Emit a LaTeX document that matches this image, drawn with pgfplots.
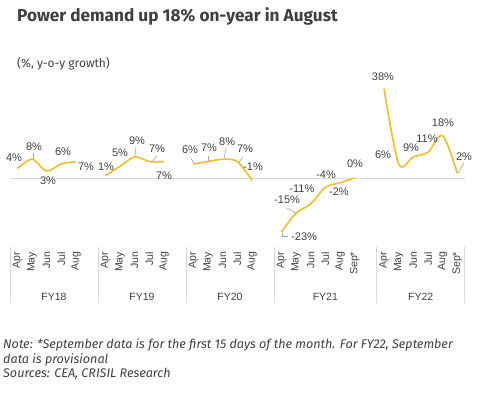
\documentclass[border=0pt]{standalone}
\usepackage{fontspec}
\setmainfont{Liberation Sans}
\newfontfamily\titlefont{Fira Sans}
\usepackage{pgfplots}
\pgfplotsset{compat=1.18}
\definecolor{gold}{RGB}{244,188,38}
\definecolor{txt}{RGB}{64,64,64}
\definecolor{sep}{RGB}{217,217,217}
\definecolor{lead}{RGB}{165,165,165}
\begin{document}
\begin{tikzpicture}
\useasboundingbox (0,0) rectangle (482pt,392pt);
\node[anchor=west, font=\titlefont\bfseries\fontsize{17.2}{19}\selectfont, text=txt, inner sep=0] at (17pt,376pt) {Power demand up 18\% on-year in August};
\node[anchor=west, font=\titlefont\fontsize{12}{14}\selectfont, text=txt, inner sep=0] at (17pt,328pt) {(\%, y-o-y growth)};
\node[anchor=west, font=\titlefont\itshape\fontsize{12.6}{14}\selectfont, text=txt, inner sep=0] at (3pt,47pt) {Note: *September data is for the first 15 days of the month. For FY22, September};
\node[anchor=west, font=\titlefont\itshape\fontsize{12.6}{14}\selectfont, text=txt, inner sep=0] at (3pt,32pt) {data is provisional};
\node[anchor=west, font=\titlefont\itshape\fontsize{12.6}{14}\selectfont, text=txt, inner sep=0] at (3pt,18pt) {Sources: CEA, CRISIL Research};
\begin{axis}[at={(10pt,143.5pt)}, anchor=south west, scale only axis,
  width=454.7pt, height=164.5pt, xmin=0, xmax=31, ymin=-30, ymax=40,
  axis line style={draw=none}, ytick=\empty, tick style={draw=none},
  clip=false,
  xtick={0.5,1.5,2.5,3.5,4.5, 6.5,7.5,8.5,9.5,10.5, 12.5,13.5,14.5,15.5,16.5, 18.5,19.5,20.5,21.5,22.5,23.5, 25.5,26.5,27.5,28.5,29.5,30.5},
  xticklabels={Apr,May,Jun,Jul,Aug, Apr,May,Jun,Jul,Aug, Apr,May,Jun,Jul,Aug, Apr,May,Jun,Jul,Aug,Sep*, Apr,May,Jun,Jul,Aug,Sep*},
  xticklabel style={rotate=90, anchor=east, font=\fontsize{10.5}{12}\selectfont, text=txt}]
\addplot[sep, line width=0.8pt] coordinates {(0,0) (31,0)};
\addplot[gold, line width=1.6pt, smooth] coordinates {(0.5,4) (1.5,8) (2.5,3) (3.5,6) (4.5,7)};
\addplot[gold, line width=1.6pt, smooth] coordinates {(6.5,1) (7.5,5) (8.5,9) (9.5,7) (10.5,7)};
\addplot[gold, line width=1.6pt, smooth] coordinates {(12.5,6) (13.5,7) (14.5,8) (15.5,7) (16.5,-1)};
\addplot[gold, line width=1.6pt, smooth] coordinates {(18.5,-23) (19.5,-15) (20.5,-11) (21.5,-4) (22.5,-2) (23.5,0)};
\addplot[gold, line width=1.6pt, smooth] coordinates {(25.5,38) (26.5,6) (27.5,9) (28.5,11) (29.5,18) (30.5,2)};
% separators
\foreach \s in {0,6,12,18,25,31} {\edef\tmp{\noexpand\draw[sep, line width=0.8pt] (axis cs:\s,-29.4) -- (axis cs:\s,-53.2);}\tmp}
% group labels
\tikzset{fy/.style={font=\fontsize{10.5}{12}\selectfont, text=txt}}
\node[fy] at (axis cs:3,-50.6) {FY18};
\node[fy] at (axis cs:9,-50.6) {FY19};
\node[fy] at (axis cs:15,-50.6) {FY20};
\node[fy] at (axis cs:21.5,-50.6) {FY21};
\node[fy] at (axis cs:28,-50.6) {FY22};
% leader lines
\draw[lead, line width=0.6pt] (axis cs:1.57,10.6) -- (axis cs:1.57,7.7);
\draw[lead, line width=0.6pt] (axis cs:8.59,13.2) -- (axis cs:8.52,9.4);
\draw[lead, line width=0.6pt] (axis cs:10.02,9.4) -- (axis cs:9.61,6.8);
\draw[lead, line width=0.6pt] (axis cs:12.34,8.5) -- (axis cs:12.55,6.0);
\draw[lead, line width=0.6pt] (axis cs:13.5,9.4) -- (axis cs:13.5,6.8);
\draw[lead, line width=0.6pt] (axis cs:14.73,12.8) -- (axis cs:14.59,8.1);
\draw[lead, line width=0.6pt] (axis cs:15.89,8.9) -- (axis cs:15.61,6.8);
\draw[lead, line width=0.6pt] (axis cs:18.89,-12.8) -- (axis cs:19.5,-14.9);
\draw[lead, line width=0.6pt] (axis cs:18.55,-23.4) -- (axis cs:18.55,-24.7) -- (axis cs:18.96,-24.7);
\draw[lead, line width=0.6pt] (axis cs:30.95,6.4) -- (axis cs:30.55,2.1);
% data labels
\tikzset{dl/.style={font=\fontsize{11}{12}\selectfont, text=txt, inner sep=0}}
\node[dl] at (axis cs:0.27,8.5) {4\%};
\node[dl] at (axis cs:1.64,13.2) {8\%};
\node[dl] at (axis cs:2.59,-1.3) {3\%};
\node[dl] at (axis cs:3.61,11.1) {6\%};
\node[dl] at (axis cs:5.18,4.7) {7\%};
\node[dl] at (axis cs:6.55,4.7) {1\%};
\node[dl] at (axis cs:7.5,10.6) {5\%};
\node[dl] at (axis cs:8.66,15.7) {9\%};
\node[dl] at (axis cs:10.02,12.3) {7\%};
\node[dl] at (axis cs:10.5,0.85) {7\%};
\node[dl] at (axis cs:12.27,11.9) {6\%};
\node[dl] at (axis cs:13.57,12.8) {7\%};
\node[dl] at (axis cs:14.8,15.3) {8\%};
\node[dl] at (axis cs:16.02,12.3) {7\%};
\node[dl] at (axis cs:16.57,4.7) {-1\%};
\node[dl] at (axis cs:18.89,-9.4) {-15\%};
\node[dl] at (axis cs:19.9,-4.7) {-11\%};
\node[dl] at (axis cs:21.55,1.3) {-4\%};
\node[dl] at (axis cs:22.43,-6.0) {-2\%};
\node[dl] at (axis cs:23.52,6.0) {0\%};
\node[dl] at (axis cs:20.05,-25.1) {-23\%};
\node[dl] at (axis cs:25.43,43) {38\%};
\node[dl] at (axis cs:25.43,9.8) {6\%};
\node[dl] at (axis cs:27.34,12.8) {9\%};
\node[dl] at (axis cs:28.43,16.6) {11\%};
\node[dl] at (axis cs:29.52,23.4) {18\%};
\node[dl] at (axis cs:30.95,8.9) {2\%};
\end{axis}
\end{tikzpicture}
\end{document}
